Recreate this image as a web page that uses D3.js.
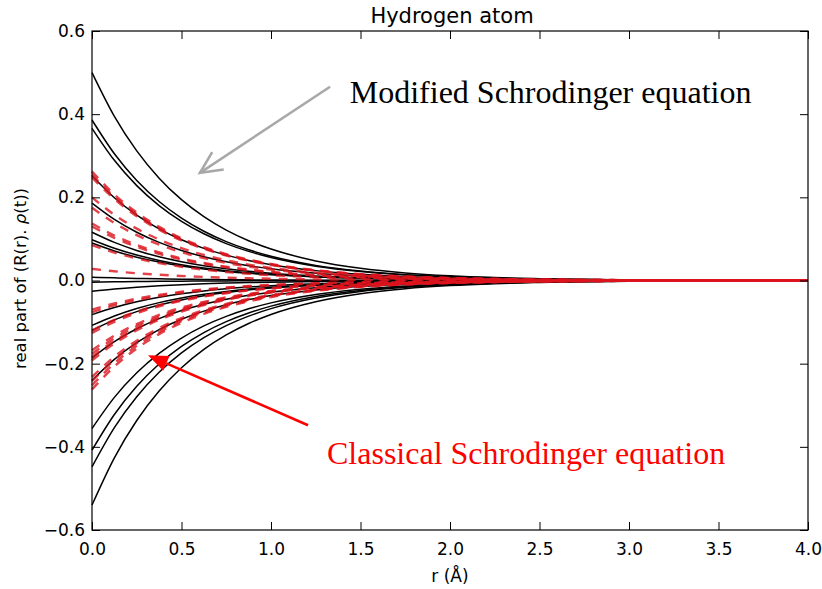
<!DOCTYPE html>
<html><head><meta charset="utf-8">
<script src="https://cdn.jsdelivr.net/npm/d3@7"></script>
<style>body{margin:0;background:#fff}</style>
</head><body>
<svg id="c" width="822" height="589"></svg>
<script>
// radial grid (Å) and normalised radial profile
const rGrid   = [0, 0.125, 0.25, 0.375, 0.5, 0.625, 0.75, 0.875, 1.0, 1.25, 1.5, 1.75, 2.0, 2.25, 2.5, 2.75, 3.0, 3.5, 4.0];
const profile = [1, 0.7896, 0.6235, 0.4923, 0.3887, 0.3069, 0.2423, 0.1913, 0.1511, 0.0942, 0.0587, 0.0366, 0.0228, 0.0142, 0.0089, 0.0055, 0.0034, 0.0013, 0.0005];
// amplitudes at r = 0
const modifiedAmps  = [0.50, 0.386, 0.366, 0.252, 0.186, 0.116, 0.098, 0.09, 0.008,
                       -0.004, -0.026, -0.082, -0.108, -0.12, -0.186, -0.24, -0.356, -0.408, -0.448, -0.54];
const classicalAmps = [0.262, 0.255, 0.248, 0.2, 0.175, 0.137, 0.13, 0.085, 0.028,
                       -0.07, -0.076, -0.12, -0.126, -0.168, -0.176, -0.184, -0.192, -0.232, -0.242, -0.252, -0.262];
const xTicks = [0, 0.5, 1.0, 1.5, 2.0, 2.5, 3.0, 3.5, 4.0];
const yTicks = [-0.6, -0.4, -0.2, 0.0, 0.2, 0.4, 0.6];

const svg = d3.select("#c");
const L = 92, R = 808, T = 31, B = 530;
const x = d3.scaleLinear().domain([0, 4]).range([L, R]);
const y = d3.scaleLinear().domain([-0.6, 0.6]).range([B, T]);
const font = "DejaVu Sans, sans-serif";

const line = d3.line().x(d => x(d[0])).y(d => y(d[1])).curve(d3.curveMonotoneX);
const series = a => rGrid.map((r, i) => [r, a * profile[i]]);

const plot = svg.append("g");
plot.selectAll("path.m").data(modifiedAmps).join("path")
  .attr("class", "m").attr("d", a => line(series(a)))
  .attr("fill", "none").attr("stroke", "#000").attr("stroke-width", 1.5);
plot.selectAll("path.c").data(classicalAmps).join("path")
  .attr("class", "c").attr("d", a => line(series(a)))
  .attr("fill", "none").attr("stroke", "rgba(220,20,30,0.8)").attr("stroke-width", 2.4)
  .attr("stroke-dasharray", "9,8");

// frame
svg.append("rect").attr("x", L).attr("y", T).attr("width", R - L).attr("height", B - T)
  .attr("fill", "none").attr("stroke", "#000").attr("stroke-width", 1.2);

// axes (inward ticks on all sides)
const tl = 8;
const fmt = d => d3.format(".1f")(d).replace("-", "\u2212");
const gxB = svg.append("g").attr("transform", `translate(0,${B})`)
  .call(d3.axisBottom(x).tickValues(xTicks).tickSizeInner(-tl).tickSizeOuter(0).tickPadding(13).tickFormat(fmt));
const gxT = svg.append("g").attr("transform", `translate(0,${T})`)
  .call(d3.axisTop(x).tickValues(xTicks).tickSizeInner(-tl).tickSizeOuter(0).tickFormat(""));
const gyL = svg.append("g").attr("transform", `translate(${L},0)`)
  .call(d3.axisLeft(y).tickValues(yTicks).tickSizeInner(-tl).tickSizeOuter(0).tickPadding(7).tickFormat(fmt));
const gyR = svg.append("g").attr("transform", `translate(${R},0)`)
  .call(d3.axisRight(y).tickValues(yTicks).tickSizeInner(-tl).tickSizeOuter(0).tickFormat(""));
[gxB, gxT, gyL, gyR].forEach(g => {
  g.select(".domain").remove();
  g.selectAll("line").attr("stroke", "#000").attr("stroke-width", 1);
  g.selectAll("text").attr("font-family", font).attr("font-size", 17).attr("fill", "#000");
});

// titles
svg.append("text").attr("x", (L + R) / 2 + 2).attr("y", 23).attr("text-anchor", "middle")
  .attr("font-family", font).attr("font-size", 21).text("Hydrogen atom");
svg.append("text").attr("x", (L + R) / 2).attr("y", 582).attr("text-anchor", "middle")
  .attr("font-family", font).attr("font-size", 17).text("r (Å)");
const yl = svg.append("text").attr("transform", `translate(26,${(T + B) / 2 - 2}) rotate(-90)`)
  .attr("text-anchor", "middle").attr("font-family", font).attr("font-size", 16.5);
yl.append("tspan").text("real part of (R(r). ");
yl.append("tspan").attr("font-style", "italic").text("ρ");
yl.append("tspan").text("(t))");

// annotations (data coordinates)
const grayArrow = {from: [1.33, 0.466], to: [0.603, 0.259]};
const redArrow  = {from: [1.207, -0.348], to: [0.313, -0.18]};
function arrowGeom(a) {
  const x0 = x(a.from[0]), y0 = y(a.from[1]), x1 = x(a.to[0]), y1 = y(a.to[1]);
  const ang = Math.atan2(y1 - y0, x1 - x0);
  return {x0, y0, x1, y1, ang};
}
{
  const g = arrowGeom(grayArrow), len = 24, spread = 0.45;
  svg.append("line").attr("x1", g.x0).attr("y1", g.y0).attr("x2", g.x1).attr("y2", g.y1)
    .attr("stroke", "#a8a8a8").attr("stroke-width", 2.6);
  const p = [g.ang + Math.PI - spread, g.ang + Math.PI + spread].map(t => [g.x1 + len * Math.cos(t), g.y1 + len * Math.sin(t)]);
  svg.append("path").attr("d", `M${p[0]}L${g.x1},${g.y1}L${p[1]}`)
    .attr("fill", "none").attr("stroke", "#a8a8a8").attr("stroke-width", 2.6);
}
{
  const g = arrowGeom(redArrow), len = 20, half = 8;
  const bx = g.x1 - len * Math.cos(g.ang), by = g.y1 - len * Math.sin(g.ang);
  svg.append("line").attr("x1", g.x0).attr("y1", g.y0).attr("x2", bx).attr("y2", by)
    .attr("stroke", "#ff0000").attr("stroke-width", 2.6);
  const nx = -Math.sin(g.ang), ny = Math.cos(g.ang);
  svg.append("path").attr("d", `M${g.x1},${g.y1}L${bx + half * nx},${by + half * ny}L${bx - half * nx},${by - half * ny}Z`)
    .attr("fill", "#ff0000");
}
svg.append("text").attr("x", x(1.44)).attr("y", y(0.427))
  .attr("font-family", "Liberation Serif, Times New Roman, serif").attr("font-size", 32).attr("fill", "#000")
  .text("Modified Schrodinger equation");
svg.append("text").attr("x", x(1.313)).attr("y", y(-0.442))
  .attr("font-family", "Liberation Serif, Times New Roman, serif").attr("font-size", 32).attr("fill", "#ff0000")
  .text("Classical Schrodinger equation");
</script>
</body></html>
